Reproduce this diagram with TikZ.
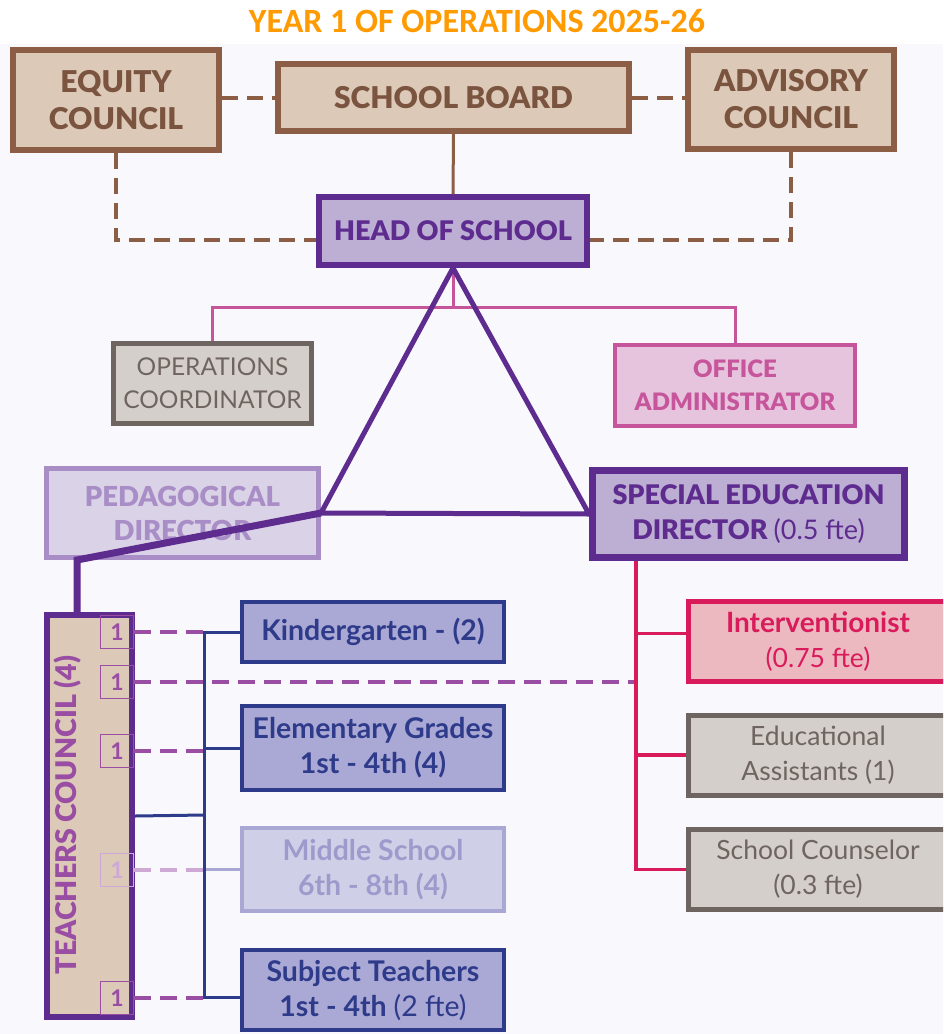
\documentclass[tikz,border=0pt]{standalone}
\usepackage{fontspec}
\setmainfont{Lato}
\newfontfamily\titlefont{Carlito}
\newfontfamily\heavyfont{Lato Black}
\usetikzlibrary{positioning}

\definecolor{bgtint}{HTML}{F9F9FD}
\definecolor{yeartitle}{HTML}{FF9A00}
\definecolor{boardline}{HTML}{8B5E45}
\definecolor{boardfill}{HTML}{DCC9B8}
\definecolor{boardtext}{HTML}{7A543F}
\definecolor{headline}{HTML}{5E2C8F}
\definecolor{headfill}{HTML}{BDAED4}
\definecolor{opsline}{HTML}{6E6560}
\definecolor{opsfill}{HTML}{D5CFCB}
\definecolor{officeline}{HTML}{C7559B}
\definecolor{officefill}{HTML}{E6C4DD}
\definecolor{pedaline}{HTML}{A88DC6}
\definecolor{pedafill}{HTML}{DAD2E7}
\definecolor{councilink}{HTML}{9A4EA3}
\definecolor{gradeline}{HTML}{2E3A8A}
\definecolor{gradefill}{HTML}{AAA8D4}
\definecolor{paleline}{HTML}{A9A7D3}
\definecolor{palefill}{HTML}{D0CFE8}
\definecolor{paletext}{HTML}{9D9BCC}
\definecolor{paledash}{HTML}{CFA9D6}
\definecolor{supportline}{HTML}{D91B5B}
\definecolor{supportfill}{HTML}{ECB9C1}

\tikzset{
  orgbox/.style={draw, rectangle, align=center, inner sep=0pt},
  boardbox/.style={orgbox, draw=boardline, fill=boardfill, text=boardtext, line width=6pt, font=\heavyfont\fontsize{30}{37}\selectfont},
  headbox/.style={orgbox, draw=headline, fill=headfill, text=headline, line width=6pt, font=\heavyfont\fontsize{27}{34}\selectfont},
  opsbox/.style={orgbox, draw=opsline, fill=opsfill, text=opsline, line width=5pt, font=\fontsize{24.5}{33}\selectfont},
  officebox/.style={orgbox, draw=officeline, fill=officefill, text=officeline, line width=4pt, font=\heavyfont\fontsize{24}{33}\selectfont},
  pedabox/.style={orgbox, draw=pedaline, fill=pedafill, text=pedaline, line width=5pt, font=\heavyfont\fontsize{27.5}{34}\selectfont},
  councilbox/.style={orgbox, draw=headline, fill=boardfill, line width=6pt},
  seatbox/.style={orgbox, draw=councilink, text=councilink, line width=1.5pt, minimum width=33pt, minimum height=33pt, font=\bfseries\fontsize{23}{24}\selectfont},
  gradebox/.style={orgbox, draw=gradeline, fill=gradefill, text=gradeline, line width=4pt, minimum width=262pt, font=\bfseries\fontsize{28.5}{35}\selectfont},
  supportbox/.style={orgbox, line width=5pt, minimum width=260pt, minimum height=80pt, font=\fontsize{26.5}{35}\selectfont},
  boardlink/.style={draw=boardline, line width=3pt},
  boarddash/.style={boardlink, line width=4pt, dash pattern=on 16pt off 9pt},
  triline/.style={draw=headline, line width=5pt},
  adminlink/.style={draw=officeline, line width=3pt},
  teacherlink/.style={draw=headline, line width=7pt},
  gradelink/.style={draw=gradeline, line width=3pt},
  seatdash/.style={draw=councilink, line width=4pt, dash pattern=on 17pt off 9pt},
  supportlink/.style={draw=supportline, line width=3.5pt}
}

\begin{document}
\begin{tikzpicture}[x=1pt, y=-1pt]
\useasboundingbox (0,0) rectangle (943,1034);
\clip (0,0) rectangle (943,1034);
\fill[bgtint] (0,44) rectangle (943,1034);

\node[font=\titlefont\bfseries\fontsize{34}{40}\selectfont, text=yeartitle] (year) at (477,21) {YEAR 1 OF OPERATIONS 2025-26};

% governance
\node[boardbox, minimum width=206pt, minimum height=100pt] (equity) at (116,100) {EQUITY\\COUNCIL};
\node[boardbox, minimum width=351pt, minimum height=67pt] (board) at (453.5,97.5) {SCHOOL BOARD};
\node[boardbox, minimum width=206pt, minimum height=99pt] (advisory) at (791,99.5) {ADVISORY\\COUNCIL};
\node[headbox, minimum width=268pt, minimum height=68pt] (head) at (453,231) {HEAD OF SCHOOL};

% staff and directors
\node[opsbox, minimum width=198pt, minimum height=80pt] (opsco) at (212.5,383.5) {OPERATIONS\\COORDINATOR};
\node[officebox, minimum width=240pt, minimum height=81pt] (office) at (735,385.5) {OFFICE\\ADMINISTRATOR};
\node[pedabox, minimum width=272pt, minimum height=89pt] (peda) at (182.5,513) {PEDAGOGICAL\\DIRECTOR};
\node[headbox, line width=7pt, font=\heavyfont\fontsize{27}{35}\selectfont, minimum width=312pt, minimum height=87pt] (sped) at (748.5,514) {SPECIAL EDUCATION\\DIRECTOR {\normalfont(0.5 fte)}};

% teachers council
\node[councilbox, minimum width=85pt, minimum height=402pt] (council) at (89.5,816) {};
\node[rotate=90, text=councilink, font=\heavyfont\fontsize{28.5}{32}\selectfont] (councillabel) at (68,815) {TEACHERS COUNCIL (4)};
\foreach \seat/\y in {1/632, 2/682, 3/751, 5/998}
  \node[seatbox] (seat\seat) at (117,\y) {1};
\node[seatbox, draw=paledash, text=paledash] (seat4) at (117,870) {1};

% grades
\node[gradebox, minimum height=60pt] (kinder) at (373,632) {Kindergarten - (2)};
\node[gradebox, minimum height=84pt] (elem) at (373,748) {Elementary Grades\\1st - 4th (4)};
\node[gradebox, draw=paleline, fill=palefill, text=paletext, minimum height=83pt] (middle) at (373,869.5) {Middle School\\6th - 8th (4)};
\node[gradebox, minimum height=80pt] (subject) at (373,990) {Subject Teachers\\1st - 4th {\mdseries(2 fte)}};

% support staff
\node[supportbox, draw=supportline, fill=supportfill, text=supportline] (interv) at (818,641.5) {{\bfseries\fontsize{28}{35}\selectfont Interventionist}\\(0.75 fte)};
\node[supportbox, draw=opsline, fill=opsfill, text=opsline] (edu) at (818,755) {Educational\\Assistants (1)};
\node[supportbox, draw=opsline, fill=opsfill, text=opsline] (couns) at (818,869.5) {School Counselor\\(0.3 fte)};

% links
\draw[boarddash] (equity.east |- board.west) -- (board.west);
\draw[boarddash] (board.east) -- (board.east -| advisory.west);
\draw[boardlink] (board.south) -- (head.north);
\draw[boarddash] (equity.south) |- ([yshift=-9pt]head.west);
\draw[boarddash] (advisory.south) |- ([yshift=-9pt]head.east);

\path (head.south) ++(0,39) coordinate (adminhub);
\draw[adminlink] (head.south) -- (adminhub);
\draw[adminlink] (opsco.north) |- (adminhub) -| (office.north);

\draw[triline] (peda.east) -- (head.south) -- (sped.west) -- cycle;

\coordinate (pedabend) at (77,560);
\draw[teacherlink] (peda.east) -- (pedabend) -- (pedabend |- council.north);

\coordinate (gradebus) at (204,815);
\coordinate (supportbus) at (636,561);
\draw[gradelink, paleline] (middle.west) -- (middle.west -| gradebus);
\draw[gradelink] (council.east) -- (gradebus);
\draw[gradelink] (kinder.west) -- (kinder.west -| gradebus) -- ([yshift=-7pt]subject.west -| gradebus) -- ([yshift=-7pt]subject.west);
\draw[gradelink] (elem.west) -- (elem.west -| gradebus);

\foreach \seat in {1,3,5}
  \draw[seatdash] (seat\seat.east) -- (seat\seat.east -| gradebus);
\draw[seatdash, paledash] (seat4.east) -- (seat4.east -| gradebus);
\draw[seatdash] (seat2.east) -- (seat2.east -| supportbus);

\draw[supportlink] (sped.south -| supportbus) |- (couns.west);
\draw[supportlink] ([yshift=8pt]interv.west -| supportbus) -- ([yshift=8pt]interv.west);
\draw[supportlink] (edu.west -| supportbus) -- (edu.west);

\end{tikzpicture}
\end{document}
